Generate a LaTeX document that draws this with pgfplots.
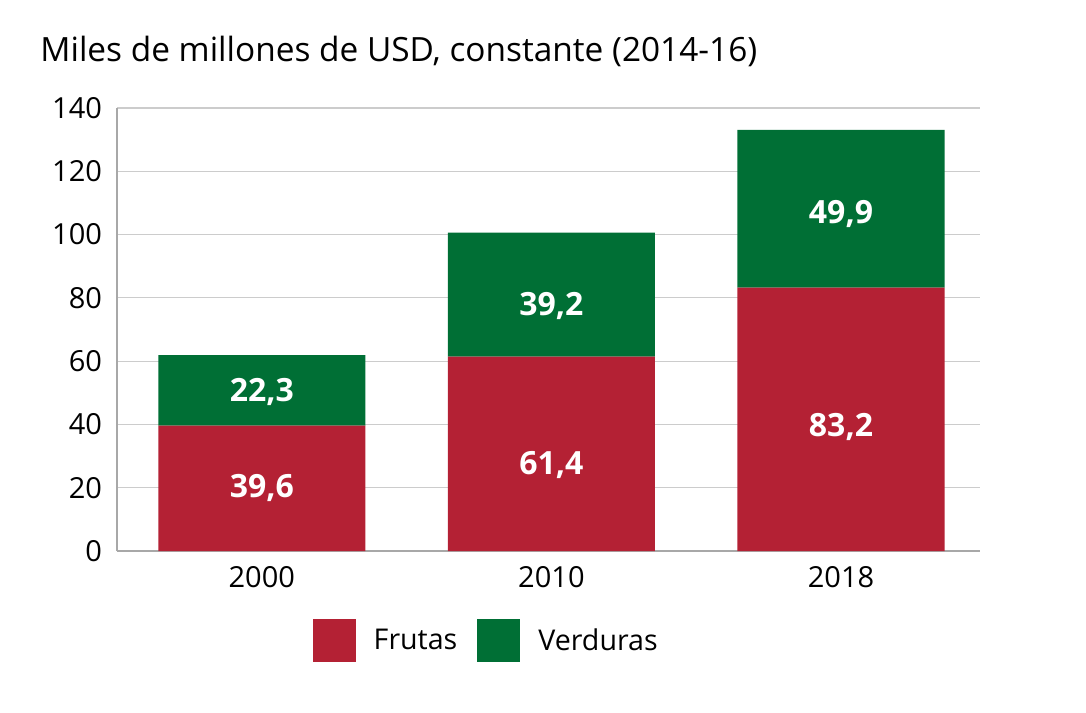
\documentclass[border=0pt]{standalone}
\usepackage{pgfplots}
\pgfplotsset{compat=1.18}
\usepackage{fontspec}
\setmainfont{Open Sans}
\definecolor{fruta}{HTML}{B42134}
\definecolor{verdura}{HTML}{006F35}
\definecolor{gridc}{HTML}{CCCCCC}
\definecolor{axisc}{HTML}{A8A8A8}
\begin{document}
\begin{tikzpicture}
\useasboundingbox (0,0) rectangle (543pt,356pt);
\begin{axis}[
  at={(58.5pt,80.5pt)}, anchor=south west,
  scale only axis, width=431.5pt, height=221.5pt,
  ybar stacked, bar width=0.715,
  xmin=-0.5, xmax=2.48, ymin=0, ymax=140,
  ytick={0,20,...,140}, xtick={0,1,2}, xticklabels={2000,2010,2018},
  major tick length=0pt,
  ymajorgrids, grid style={gridc, line width=0.6pt},
  axis x line*=bottom, axis y line*=left,
  axis line style={axisc, line width=1pt, -},
  tick label style={font=\fontsize{14.5}{16}\selectfont},
  /pgf/number format/assume math mode=true,
  yticklabel style={xshift=-4pt},
  xticklabel style={yshift=-4pt},
  title={Miles de millones de USD, constante (2014-16)},
  title style={at={(-0.0892,1.079)}, anchor=base west, font=\fontsize{16.7}{19}\selectfont, inner sep=0pt},
  legend style={at={(0.429,-0.203)}, anchor=center, draw=none, legend columns=2,
    font=\fontsize{14.3}{16}\selectfont,
    /tikz/every odd column/.append style={column sep=7pt},
    /tikz/every even column/.append style={column sep=8pt}},
  legend image code/.code={\fill[#1] (0pt,-10.75pt) rectangle (21.5pt,10.75pt);},
]
\addplot[fill=fruta, draw=none] coordinates {(0,39.6) (1,61.4) (2,83.2)};
\addplot[fill=verdura, draw=none] coordinates {(0,22.3) (1,39.2) (2,49.9)};
\legend{Frutas, Verduras}
\end{axis}
\begin{axis}[
  at={(58.5pt,80.5pt)}, anchor=south west,
  scale only axis, width=431.5pt, height=221.5pt,
  xmin=-0.5, xmax=2.48, ymin=0, ymax=140,
  hide axis, clip=false,
  nodes near coords style={anchor=center, font=\bfseries\fontsize{16}{19}\selectfont, text=white},
]
\addplot[draw=none, mark=none, nodes near coords, point meta=explicit symbolic]
  coordinates {(0,19.8) [{39,6}] (1,27.2) [{61,4}] (2,39.1) [{83,2}]};
\addplot[draw=none, mark=none, nodes near coords, point meta=explicit symbolic]
  coordinates {(0,50.1) [{22,3}] (1,77.5) [{39,2}] (2,106.6) [{49,9}]};
\end{axis}
\end{tikzpicture}
\end{document}
